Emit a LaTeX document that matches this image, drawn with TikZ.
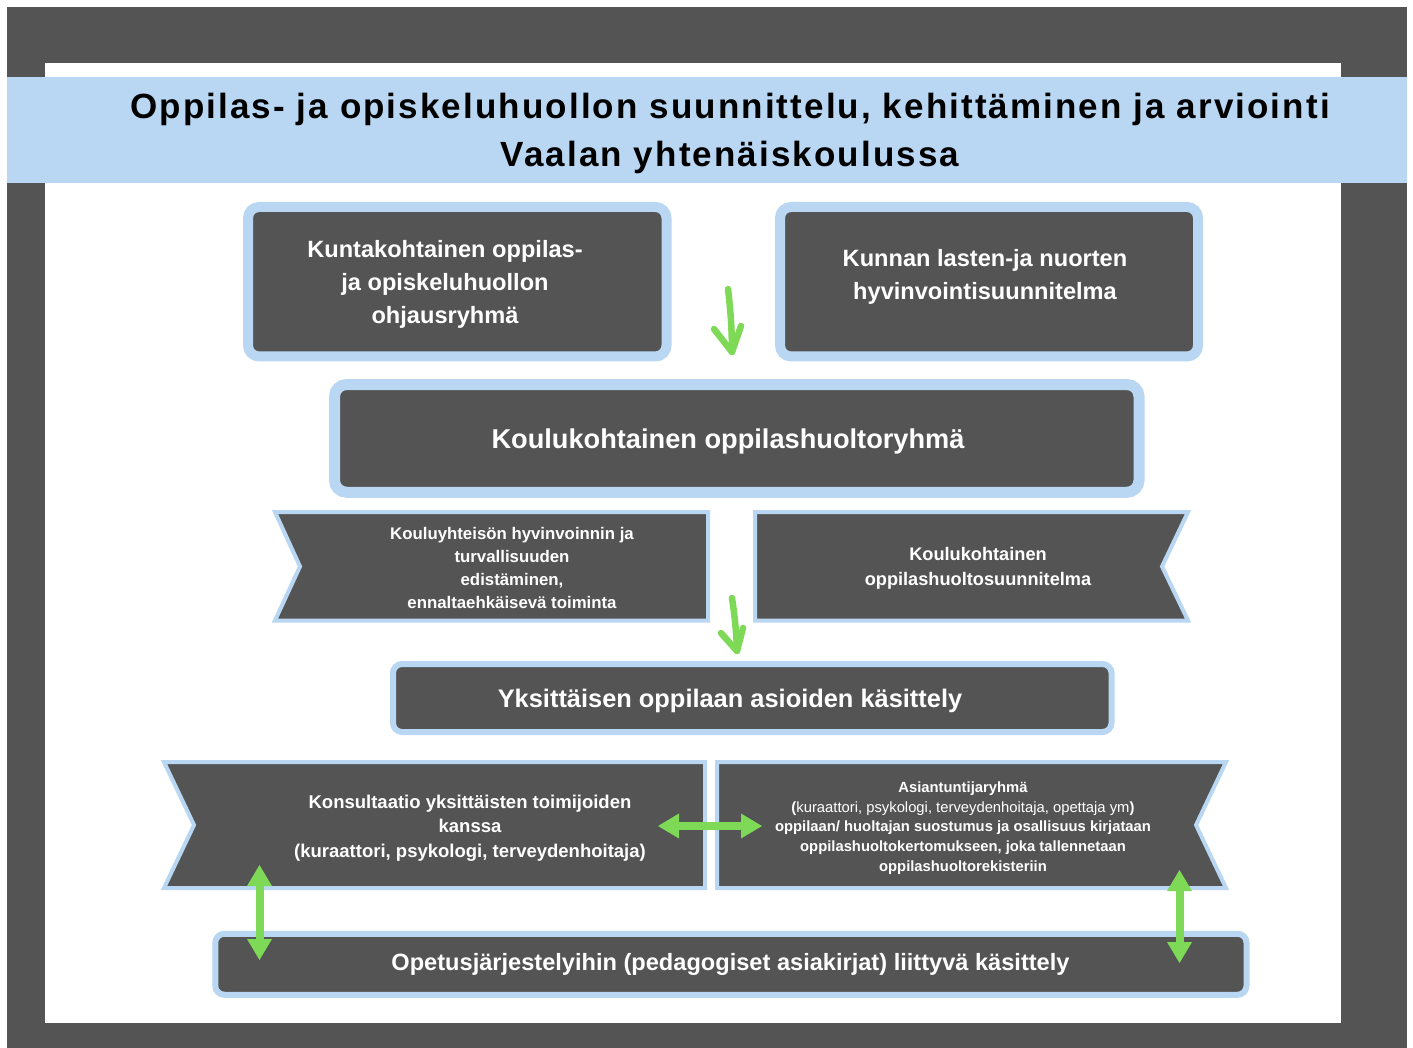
\documentclass[tikz,border=0pt]{standalone}
\usepackage{fontspec}
\setmainfont{Liberation Sans}
\newfontfamily\titlefont[LetterSpace=6]{Liberation Sans}
\usetikzlibrary{arrows.meta}
\definecolor{dgray}{HTML}{545454}
\definecolor{lblue}{HTML}{B9D7F2}
\definecolor{lgreen}{HTML}{7ED957}
\tikzset{
  panel/.style={draw=lblue, fill=dgray, inner sep=0pt},
  ribbon/.style={draw=lblue, fill=dgray, line width=4pt, line join=miter},
  txt/.style={text=white, align=center, inner sep=0pt},
  titletxt/.style={text=black, inner sep=0pt, font=\titlefont\bfseries\fontsize{35}{40}\selectfont},
  dblarrow/.style={draw=lgreen, line width=8pt,
    {Triangle[length=21pt,width=25pt,line width=0pt]}-{Triangle[length=21pt,width=25pt,line width=0pt]}},
  handarrow/.style={draw=lgreen, line width=6.5pt, line cap=round, line join=round}
}
\begin{document}
\begin{tikzpicture}[x=1pt,y=-1pt]
\useasboundingbox (0,0) rectangle (1413,1048);
% frame
\fill[dgray] (7,7) rectangle (1407,1048);
\fill[white] (45,63) rectangle (1341,1023);
\fill[lblue] (7,77) rectangle (1407,183);
% title
\node[titletxt, anchor=base] (t1) at (730,119) {Oppilas- ja opiskeluhuollon suunnittelu, kehittäminen ja arviointi};
\node[titletxt, anchor=base] (t2) at (730,167) {Vaalan yhtenäiskoulussa};

% top boxes
\node[panel, line width=10pt, rounded corners=11pt, minimum width=418.5pt, minimum height=149.5pt] (b1) at (457.25,281.75) {};
\node[txt, font=\bfseries\fontsize{23.6}{33}\selectfont] (b1t) at (445,284) {Kuntakohtainen oppilas-\\ja opiskeluhuollon\\ohjausryhmä};
\node[panel, line width=10pt, rounded corners=11pt, minimum width=418pt, minimum height=149.5pt] (b2) at (989,281.75) {};
\node[txt, font=\bfseries\fontsize{23.6}{33}\selectfont] (b2t) at (985,277) {Kunnan lasten-ja nuorten\\hyvinvointisuunnitelma};

% hand-drawn arrow 1
\coordinate (a1s) at (728,289);
\coordinate (a1e) at (732,352);
\draw[handarrow] (a1s) to[bend left=3] (a1e);
\draw[handarrow] (714,329) -- (a1e) -- (741,326);

% middle box
\node[panel, line width=11pt, rounded corners=12pt, minimum width=804.5pt, minimum height=107.75pt] (b3) at (736.75,438.4) {};
\node[txt, font=\bfseries\fontsize{27.2}{32}\selectfont] (b3t) at (728,441.5) {Koulukohtainen oppilashuoltoryhmä};

% middle ribbons
\draw[ribbon] (275,512) -- (708,512) -- (708,620.5) -- (275,620.5) -- (300,566.5) -- cycle;
\node[txt, font=\bfseries\fontsize{16.8}{23}\selectfont] (r1t) at (512,568) {Kouluyhteisön hyvinvoinnin ja\\turvallisuuden\\edistäminen,\\ennaltaehkäisevä toiminta};
\draw[ribbon] (755,512) -- (1188,512) -- (1162,566.5) -- (1188,620.5) -- (755,620.5) -- cycle;
\node[txt, font=\bfseries\fontsize{18.2}{25}\selectfont] (r2t) at (978,568) {Koulukohtainen\\oppilashuoltosuunnitelma};

% hand-drawn arrow 2
\coordinate (a2s) at (732,598);
\coordinate (a2e) at (737,651);
\draw[handarrow] (a2s) to[bend left=3] (a2e);
\draw[handarrow] (721,633) -- (a2e) -- (743,628);

% box 4
\node[panel, line width=6pt, rounded corners=9pt, minimum width=718.5pt, minimum height=68pt] (b4) at (752.25,698) {};
\node[txt, font=\bfseries\fontsize{25.4}{30}\selectfont] (b4t) at (730,700.5) {Yksittäisen oppilaan asioiden käsittely};

% bottom ribbons
\draw[ribbon] (164,762) -- (705,762) -- (705,888) -- (164,888) -- (194,825) -- cycle;
\node[txt, font=\bfseries\fontsize{18.5}{24.5}\selectfont] (r3t) at (470,828) {Konsultaatio yksittäisten toimijoiden\\kanssa\\(kuraattori, psykologi, terveydenhoitaja)};
\draw[ribbon] (717,762) -- (1226,762) -- (1196,825) -- (1226,888) -- (717,888) -- cycle;
\node[txt, font=\fontsize{14.8}{19.7}\selectfont] (r4t) at (963,828) {\textbf{Asiantuntijaryhmä}\\\textbf{(}kuraattori, psykologi, terveydenhoitaja, opettaja ym\textbf{)}\\\textbf{oppilaan/ huoltajan suostumus ja osallisuus kirjataan}\\\textbf{oppilashuoltokertomukseen, joka tallennetaan}\\\textbf{oppilashuoltorekisteriin}};

% box 5
\node[panel, line width=6pt, rounded corners=9pt, minimum width=1031.25pt, minimum height=61pt] (b5) at (730.9,964.25) {};
\node[txt, font=\bfseries\fontsize{23.6}{28}\selectfont] (b5t) at (730.5,964.5) {Opetusjärjestelyihin (pedagogiset asiakirjat) liittyvä käsittely};

% double arrows
\coordinate (h1) at (658,826);
\coordinate (h2) at (762,826);
\draw[dblarrow] (h1) -- (h2);
\coordinate (v1a) at (259.5,865);
\coordinate (v1b) at (259.5,960);
\draw[dblarrow] (v1a) -- (v1b);
\coordinate (v2a) at (1179.5,870);
\coordinate (v2b) at (1179.5,963);
\draw[dblarrow] (v2a) -- (v2b);
\end{tikzpicture}
\end{document}
